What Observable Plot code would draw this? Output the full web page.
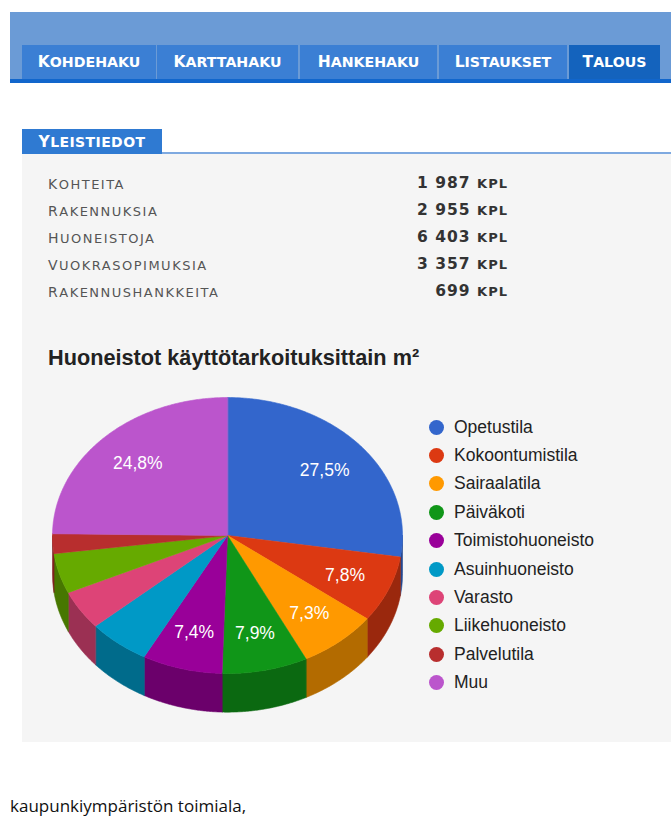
<!DOCTYPE html>
<html>
<head>
<meta charset="utf-8">
<script src="https://cdn.jsdelivr.net/npm/d3@7"></script>
<script src="https://cdn.jsdelivr.net/npm/@observablehq/plot@0.6"></script>
<style>
  html, body { margin: 0; padding: 0; background: #fff; width: 671px; height: 820px; overflow: hidden; position: relative; }
  .abs { position: absolute; }
  .sc { font-family: "DejaVu Sans", Verdana, sans-serif; text-transform: uppercase; white-space: nowrap; }
  #navband { left: 10px; top: 12px; width: 661px; height: 71px; background: #6b9bd6; }
  #navline { left: 10px; top: 79px; width: 661px; height: 4px; background: #1166cc; }
  .tab { top: 45px; height: 34px; background: #3b7fd4; color: #fff; font-weight: bold; display: flex; align-items: center; justify-content: center; letter-spacing: 0; }
  .tab.active { background: #1463bd; }
  #ytab { left: 22px; top: 129px; width: 140px; height: 25px; background: #2f7ad2; color: #fff; font-weight: bold; display: flex; align-items: center; justify-content: center; letter-spacing: 0.4px; }
  #yline { left: 162px; top: 152px; width: 509px; height: 2px; background: #7ea9e0; }
  #panel { left: 22px; top: 154px; width: 649px; height: 588px; background: #f5f5f5; }
  .rowlab { left: 48px; color: #555; letter-spacing: 1.5px; }
  .rowval { right: 163px; color: #333; font-weight: bold; letter-spacing: 1px; }
  #title { left: 48px; top: 345px; font: bold 21.7px "Liberation Sans", Arial, sans-serif; color: #222; white-space: nowrap; }
  #chart { left: 0; top: 380px; }
  #legend { left: 429px; top: 413px; font: 17.5px "Liberation Sans", Arial, sans-serif; color: #222; }
  .li { height: 28.4px; display: flex; align-items: center; white-space: nowrap; }
  .sw { width: 15px; height: 15px; border-radius: 50%; margin-right: 10px; }
  #foot { left: 10px; top: 794px; font: 17px "Open Sans", sans-serif; color: #111; white-space: nowrap; }
</style>
</head>
<body>
<div id="page"></div>
<script>
// ---- data ----
const navTabs = ["Kohdehaku", "Karttahaku", "Hankehaku", "Listaukset", "Talous"];
const activeTab = "Talous";
const sectionTitle = "Yleistiedot";
const statLabels = ["Kohteita", "Rakennuksia", "Huoneistoja", "Vuokrasopimuksia", "Rakennushankkeita"];
const statValues = [1987, 2955, 6403, 3357, 699];
const statUnit = "kpl";
const chartTitle = "Huoneistot käyttötarkoituksittain m²";
const categories = ["Opetustila", "Kokoontumistila", "Sairaalatila", "Päiväkoti", "Toimistohuoneisto",
                    "Asuinhuoneisto", "Varasto", "Liikehuoneisto", "Palvelutila", "Muu"];
const shares = [27.5, 7.8, 7.3, 7.9, 7.4, 5.7, 4.6, 4.7, 2.3, 24.8];
const colors = ["#3366cc", "#dc3912", "#ff9900", "#109618", "#990099",
                "#0099c6", "#dd4477", "#66aa00", "#b82e2e", "#bb55cc"];
const footText = "kaupunkiympäristön toimiala,";

// ---- helpers ----
const page = document.getElementById("page");
function el(tag, cls, id) { const e = document.createElement(tag); if (cls) e.className = cls; if (id) e.id = id; page.appendChild(e); return e; }
function smallCaps(text, big, small) {
  return text.split(" ").map(w => `<span style="font-size:${big}px">${w[0].toUpperCase()}</span><span style="font-size:${small}px">${w.slice(1).toUpperCase()}</span>`).join(" ");
}
const fi = d3.formatLocale({decimal: ",", thousands: "\u00a0", grouping: [3], currency: ["", "€"]});
const fmtInt = fi.format(",d");
const fmtPct = fi.format(".1f");

// ---- nav ----
el("div", "abs", "navband");
const tabEdges = [[22, 156], [157, 298], [300, 437], [439, 567], [569, 660]];
navTabs.forEach((t, i) => {
  const d = el("div", "abs tab sc" + (t === activeTab ? " active" : ""));
  d.style.left = tabEdges[i][0] + "px"; d.style.width = (tabEdges[i][1] - tabEdges[i][0]) + "px";
  d.innerHTML = smallCaps(t, 15.5, 14.2);
});
el("div", "abs", "navline");

// ---- general info ----
const yt = el("div", "abs sc", "ytab"); yt.innerHTML = smallCaps(sectionTitle, 15.5, 14);
el("div", "abs", "yline");
el("div", "abs", "panel");
statLabels.forEach((l, i) => {
  const a = el("div", "abs sc rowlab"); a.style.top = (174 + i * 27) + "px";
  a.innerHTML = smallCaps(l, 14, 13);
  const b = el("div", "abs sc rowval"); b.style.top = (173 + i * 27) + "px";
  b.innerHTML = `<span style="font-size:15.5px">${fmtInt(statValues[i])}</span> <span style="font-size:13px">${statUnit.toUpperCase()}</span>`;
});
const tt = el("div", "abs", "title"); tt.textContent = chartTitle;

// ---- pie geometry (derived from shares) ----
const total = d3.sum(shares);
let acc = 0;
const slices = categories.map((c, i) => {
  const a0 = acc / total * 2 * Math.PI; acc += shares[i];
  const a1 = acc / total * 2 * Math.PI;
  return {c, i, a0, a1, v: shares[i], color: colors[i], side: d3.color(colors[i]).darker(1).formatHex()};
});
const DEPTH = 0.28;
const STEP = Math.PI / 360;
function arcPts(a0, a1) {
  const n = Math.max(2, Math.ceil((a1 - a0) / STEP));
  return d3.range(n + 1).map(k => a0 + (a1 - a0) * k / n);
}
const topPts = [], sidePts = [];
slices.forEach(s => {
  topPts.push({key: s.c, x: 0, y: 0, color: s.color});
  arcPts(s.a0, s.a1).forEach(a => topPts.push({key: s.c, x: Math.sin(a), y: Math.cos(a), color: s.color}));
  const b0 = Math.max(s.a0, Math.PI / 2), b1 = Math.min(s.a1, 3 * Math.PI / 2);
  if (b1 > b0) {
    const as = arcPts(b0, b1);
    as.forEach(a => sidePts.push({key: s.c, x: Math.sin(a), y: Math.cos(a), color: s.side}));
    as.slice().reverse().forEach(a => sidePts.push({key: s.c, x: Math.sin(a), y: Math.cos(a) - DEPTH, color: s.side}));
  }
});
const labels = slices.filter(s => s.v >= 7).map(s => {
  const m = (s.a0 + s.a1) / 2;
  return {x: 0.73 * Math.sin(m), y: 0.73 * Math.cos(m), text: fmtPct(s.v) + "%"};
});

const chart = Plot.plot({
  width: 671, height: 350, margin: 0,
  style: {background: "transparent", overflow: "visible"},
  x: {domain: [-1, 1], range: [52, 402], axis: null},
  y: {domain: [-1, 1], range: [293, 17], axis: null},
  color: {type: "identity"},
  marks: [
    Plot.line(sidePts, {x: "x", y: "y", z: "key", fill: "color", stroke: "color", strokeWidth: 0.6, curve: "linear-closed"}),
    Plot.line(topPts, {x: "x", y: "y", z: "key", fill: "color", stroke: "color", strokeWidth: 0.6, curve: "linear-closed"}),
    Plot.text(labels, {x: "x", y: "y", text: "text", fill: "white", fontSize: 17.5, fontFamily: "Liberation Sans, Arial, sans-serif"})
  ]
});
const holder = el("div", "abs", "chart"); holder.appendChild(chart);

// ---- legend ----
const lg = el("div", "abs", "legend");
categories.forEach((c, i) => {
  const r = document.createElement("div"); r.className = "li";
  r.innerHTML = `<span class="sw" style="background:${colors[i]}"></span><span>${c}</span>`;
  lg.appendChild(r);
});

const ft = el("div", "abs", "foot"); ft.textContent = footText;
</script>
</body>
</html>
